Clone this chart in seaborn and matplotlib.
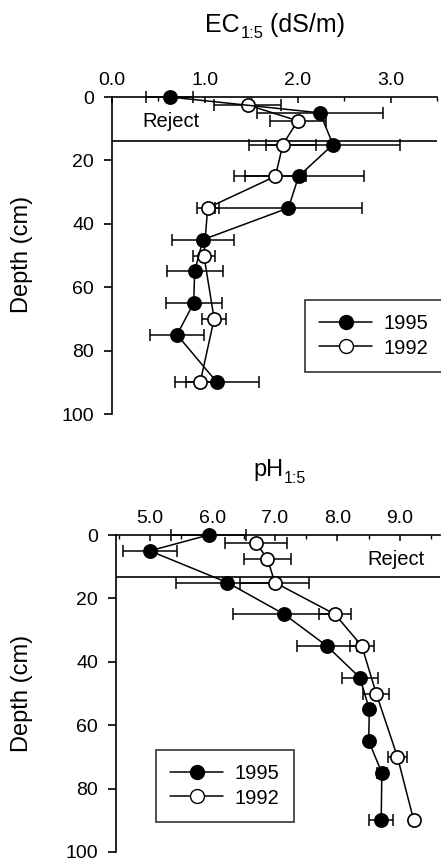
import matplotlib
matplotlib.use("Agg")
import matplotlib.pyplot as plt
from matplotlib.lines import Line2D
from matplotlib.ticker import MultipleLocator
import seaborn as sns
import pandas as pd

# ---------------- data ----------------
depth_1995 = [0, 5, 15, 25, 35, 45, 55, 65, 75, 90]
depth_1992 = [2.5, 7.5, 15, 25, 35, 50, 70, 90]

ec_1995 = [0.62, 2.24, 2.38, 2.01, 1.90, 0.98, 0.89, 0.88, 0.70, 1.13]
ec_1995_err = [0.25, 0.68, 0.72, 0.70, 0.79, 0.33, 0.30, 0.30, 0.29, 0.45]
ec_1992 = [1.46, 2.00, 1.84, 1.76, 1.03, 0.99, 1.10, 0.95]
ec_1992_err = [0.36, 0.30, 0.36, 0.33, 0.12, 0.12, 0.13, 0.15]

ph_1995 = [5.94, 5.00, 6.24, 7.15, 7.83, 8.36, 8.51, 8.50, 8.71, 8.70]
ph_1995_err = [0.60, 0.43, 0.82, 0.82, 0.48, 0.29, 0.06, 0.05, 0.08, 0.19]
ph_1992 = [6.70, 6.88, 7.00, 7.96, 8.39, 8.62, 8.96, 9.22]
ph_1992_err = [0.49, 0.37, 0.55, 0.26, 0.19, 0.21, 0.15, 0.05]

ec_ticks = [0.0, 1.0, 2.0, 3.0]
ph_ticks = [5.0, 6.0, 7.0, 8.0, 9.0]
depth_ticks = [0, 20, 40, 60, 80, 100]
series_labels = ["1995", "1992"]

# ---------------- style ----------------
sns.set_style("white")
plt.rcParams["font.family"] = ["Liberation Sans", "DejaVu Sans"]
plt.rcParams["text.color"] = "black"
plt.rcParams["axes.labelcolor"] = "black"
plt.rcParams["xtick.color"] = "black"
plt.rcParams["ytick.color"] = "black"

W, H = 441, 861
fig = plt.figure(figsize=(W / 100, H / 100), dpi=100)
fig.patch.set_facecolor("white")


def axes_px(l, r, t, b):
    return fig.add_axes([l / W, 1 - b / H, (r - l) / W, (b - t) / H])


ax1 = axes_px(112, 437, 97, 414)
ax2 = axes_px(116, 440, 535, 852)


def draw_panel(ax, v95, e95, v92, e92, xlim, xticks, reject_y):
    df95 = pd.DataFrame({"value": v95, "depth": depth_1995})
    df92 = pd.DataFrame({"value": v92, "depth": depth_1992})
    ax.errorbar(df95["value"], df95["depth"], xerr=e95, fmt="none",
                ecolor="black", elinewidth=1.1, capsize=4.5, capthick=1.1,
                zorder=2, clip_on=False)
    ax.errorbar(df92["value"], df92["depth"], xerr=e92, fmt="none",
                ecolor="black", elinewidth=1.1, capsize=4.5, capthick=1.1,
                zorder=2, clip_on=False)
    sns.lineplot(data=df95, x="value", y="depth", orient="y", sort=False,
                 estimator=None, errorbar=None, color="black", marker="o",
                 markersize=9.5, markerfacecolor="black",
                 markeredgecolor="black", markeredgewidth=1.2,
                 linewidth=1.1, ax=ax, zorder=4, clip_on=False)
    sns.lineplot(data=df92, x="value", y="depth", orient="y", sort=False,
                 estimator=None, errorbar=None, color="black", marker="o",
                 markersize=9.5, markerfacecolor="white",
                 markeredgecolor="black", markeredgewidth=1.2,
                 linewidth=1.1, ax=ax, zorder=3, clip_on=False)
    ax.axhline(reject_y, color="black", lw=1.2, zorder=1)
    ax.set_xlim(*xlim)
    ax.set_ylim(100, 0)
    ax.xaxis.tick_top()
    ax.set_xticks(xticks)
    ax.set_xticklabels([f"{t:.1f}" for t in xticks])
    ax.xaxis.set_minor_locator(MultipleLocator(0.5))
    ax.set_yticks(depth_ticks)
    ax.set_yticklabels([str(t) for t in depth_ticks])
    ax.tick_params(axis="x", which="major", direction="in", length=4,
                   width=1.1, pad=6, labelsize=14, top=True, bottom=False,
                   colors="black")
    ax.tick_params(axis="x", which="minor", direction="in", length=3,
                   width=1.0, top=True, bottom=False, colors="black")
    ax.tick_params(axis="y", which="major", direction="out", length=6,
                   width=1.2, pad=7, labelsize=14, left=True, colors="black")
    for s in ["bottom", "right"]:
        ax.spines[s].set_visible(False)
    for s in ["top", "left"]:
        ax.spines[s].set_color("black")
        ax.spines[s].set_linewidth(1.2)
    ax.set_xlabel("")
    ax.set_ylabel("")
    ax.patch.set_alpha(0)


draw_panel(ax1, ec_1995, ec_1995_err, ec_1992, ec_1992_err,
           (0.0, 3.5), ec_ticks, 14)
draw_panel(ax2, ph_1995, ph_1995_err, ph_1992, ph_1992_err,
           (4.46, 9.64), ph_ticks, 13.3)

ax1.text(0.33, 7.6, "Reject", fontsize=14.5, ha="left", va="center",
         color="black")
ax2.text(9.4, 7.7, "Reject", fontsize=14.5, ha="right", va="center",
         color="black")


def sub_title(ax, x_px, base_px, main, sub, rest, size, subsize, drop_pt):
    t1 = fig.text(x_px / W, 1 - base_px / H, main, fontsize=size,
                  ha="left", va="baseline", color="black")
    t2 = ax.annotate(sub, xy=(1, 0), xycoords=t1, xytext=(0.5, -drop_pt),
                     textcoords="offset points", ha="left", va="bottom",
                     fontsize=subsize, color="black", annotation_clip=False)
    if rest:
        ax.annotate(rest, xy=(1, 0), xycoords=(t2, t1), ha="left",
                    va="bottom", fontsize=size, color="black",
                    annotation_clip=False)


sub_title(ax1, 205, 32, "EC", "1:5", " (dS/m)", 18, 12, 3.0)
sub_title(ax2, 253, 476, "pH", "1:5", "", 17, 11.5, 3.6)

fig.text(22 / W, 1 - 254 / H, "Depth (cm)", fontsize=17, rotation=90,
         ha="center", va="center", color="black")
fig.text(22 / W, 1 - 693 / H, "Depth (cm)", fontsize=17, rotation=90,
         ha="center", va="center", color="black")

handles = [
    Line2D([], [], color="black", lw=1.1, marker="o", markersize=10,
           markerfacecolor="black", markeredgecolor="black"),
    Line2D([], [], color="black", lw=1.1, marker="o", markersize=10,
           markerfacecolor="white", markeredgecolor="black"),
]


def add_legend(ax, cx, cy):
    leg = ax.legend(handles, series_labels, loc="center",
                    bbox_to_anchor=(cx / W, 1 - cy / H),
                    bbox_transform=fig.transFigure, fontsize=14.5,
                    frameon=True, fancybox=False, edgecolor="black",
                    handlelength=2.6, handletextpad=0.6, labelspacing=0.25,
                    borderpad=0.7, borderaxespad=0, labelcolor="black")
    leg.get_frame().set_linewidth(1.2)
    leg.set_zorder(10)


add_legend(ax1, 374, 336)
add_legend(ax2, 225, 786)

fig.savefig("out.png", dpi=100, facecolor="white")
